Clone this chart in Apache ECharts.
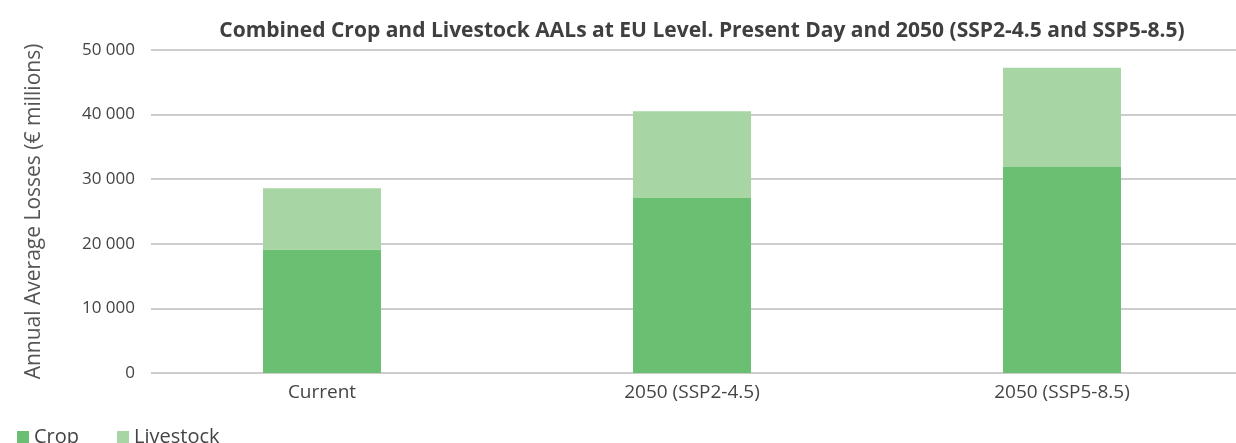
<!DOCTYPE html>
<html>
<head>
<meta charset="utf-8">
<script src="https://cdn.jsdelivr.net/npm/echarts@6/dist/echarts.min.js"></script>
<style>
  html, body { margin: 0; padding: 0; background: #fff; overflow: hidden; }
  /* plot area runs a little past the right edge in the original, so the chart is wider than the window */
  #chart { width: 1247px; height: 443px; }
</style>
</head>
<body>
<div id="chart"></div>
<script>
// categories + values
const categories = ['Current', '2050 (SSP2-4.5)', '2050 (SSP5-8.5)'];
const cropValues = [19100, 27100, 31900];
const livestockValues = [9500, 13400, 15350];
const yTicks = [0, 10000, 20000, 30000, 40000, 50000];

const fmt = v => String(v).replace(/\B(?=(\d{3})+(?!\d))/g, ' ');
const font = '"Open Sans", "Noto Sans", sans-serif';

const chart = echarts.init(document.getElementById('chart'));

chart.setOption({
    animation: false,
    title: {
        text: 'Combined Crop and Livestock AALs at EU Level. Present Day and 2050 (SSP2-4.5 and SSP5-8.5)',
        left: 697,
        textAlign: 'center',
        top: 16,
        textStyle: { fontFamily: font, fontSize: 21, fontWeight: 'bold', color: '#3f3f3f' }
    },
    legend: {
        left: 12,
        top: 422,
        itemWidth: 12,
        itemHeight: 12,
        itemGap: 38,
        icon: 'rect',
        textStyle: { fontFamily: font, fontSize: 20, color: '#444' },
        data: ['Crop', 'Livestock']
    },
    // grid 0 carries the value axis + gridlines, grid 1 the bars
    grid: [
        { left: 151, right: 11, top: 50, bottom: 70 },
        { left: 137, right: 0, top: 50, bottom: 70 }
    ],
    xAxis: [
        { gridIndex: 0, type: 'category', data: categories, show: false },
        {
            gridIndex: 1,
            type: 'category',
            data: categories,
            axisLine: { show: false },
            axisTick: { show: false },
            axisLabel: { fontFamily: font, fontSize: 19, color: '#444', margin: 10 }
        }
    ],
    yAxis: [
        {
            gridIndex: 0,
            type: 'value',
            min: yTicks[0],
            max: yTicks[yTicks.length - 1],
            interval: 10000,
            name: 'Annual Average Losses (€ millions)',
            nameLocation: 'middle',
            nameGap: 106,
            nameTextStyle: { fontFamily: font, fontSize: 21, color: '#555' },
            axisLine: { show: false },
            axisTick: { show: false },
            axisLabel: { fontFamily: font, fontSize: 17, color: '#444', margin: 16, formatter: fmt },
            splitLine: { lineStyle: { color: '#bdbdbd', width: 1.5 } }
        },
        {
            gridIndex: 1,
            type: 'value',
            min: yTicks[0],
            max: yTicks[yTicks.length - 1],
            interval: 10000,
            show: false,
            splitLine: { show: false }
        }
    ],
    series: [
        {
            name: 'Crop',
            type: 'bar',
            stack: 'total',
            xAxisIndex: 1,
            yAxisIndex: 1,
            barWidth: 118,
            itemStyle: { color: '#6bbf72' },
            data: cropValues
        },
        {
            name: 'Livestock',
            type: 'bar',
            stack: 'total',
            xAxisIndex: 1,
            yAxisIndex: 1,
            barWidth: 118,
            itemStyle: { color: '#a7d5a3' },
            data: livestockValues
        }
    ]
});
</script>
</body>
</html>
